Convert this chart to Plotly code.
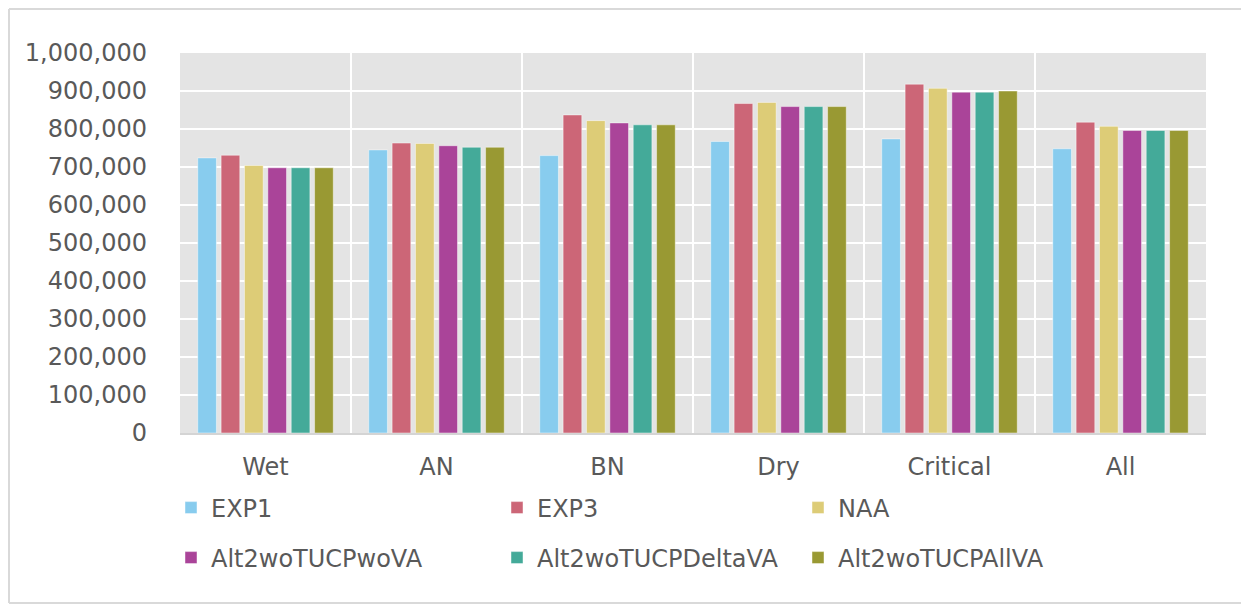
import plotly.graph_objects as go

categories = ["Wet", "AN", "BN", "Dry", "Critical", "All"]
series_names = ["EXP1", "EXP3", "NAA", "Alt2woTUCPwoVA", "Alt2woTUCPDeltaVA", "Alt2woTUCPAllVA"]
exp1 = [724000, 745000, 730000, 767000, 774000, 748000]
exp3 = [731000, 763000, 837000, 867000, 918000, 818000]
naa = [704000, 762000, 822000, 870000, 907000, 807000]
wo_va = [698000, 756000, 816000, 859000, 897000, 796000]
delta_va = [698000, 752000, 811000, 859000, 897000, 796000]
all_va = [698000, 752000, 811000, 859000, 900000, 796000]
series_values = [exp1, exp3, naa, wo_va, delta_va, all_va]
colors = ["#88CCEE", "#CC6677", "#DDCC77", "#AA4499", "#44AA99", "#999933"]

# page offset (default body margin of the html page)
OFF = 8
W, H = 1241, 597
# plot area in screen pixels: x 180..1206, y 53..433
L = 180 - OFF
T = 53 - OFF
R = W - (1206 - OFF)
B = H - (433 - OFF)
PW, PH = W - L - R, H - T - B

def px_x(px):
    return (px - OFF - L) / PW

def px_y(py):
    return (H - B - (py - OFF)) / PH

FONT = "DejaVu Sans"
FCOLOR = "#595959"

fig = go.Figure()
legend_ids = ["legend", "legend2", "legend3", "legend4", "legend5", "legend6"]
for name, vals, col, lid in zip(series_names, series_values, colors, legend_ids):
    fig.add_trace(go.Bar(
        x=categories, y=vals, name=name,
        marker=dict(color=col, line=dict(color="rgba(255,255,255,0.45)", width=1)),
        legend=lid,
    ))

# legend positions (screen pixels: legend left / row centre)
leg_pos = [(171, 508), (497, 508), (798, 508), (171, 558), (497, 558), (798, 558)]
layout_legends = {}
for lid, (lx, ly) in zip(legend_ids, leg_pos):
    layout_legends[lid] = dict(
        x=px_x(lx), y=px_y(ly), xanchor="left", yanchor="middle",
        orientation="h", bgcolor="rgba(0,0,0,0)", borderwidth=0,
        font=dict(family=FONT, size=24, color=FCOLOR),
    )

fig.update_layout(
    width=W, height=H,
    margin=dict(l=L, r=R, t=T, b=B),
    paper_bgcolor="white",
    plot_bgcolor="#e4e4e4",
    barmode="group",
    bargap=0.18,
    bargroupgap=0.2,
    font=dict(family=FONT, size=24, color=FCOLOR),
    showlegend=True,
    **layout_legends,
)
fig.update_xaxes(
    type="category",
    tickson="boundaries",
    showgrid=True, gridcolor="white", gridwidth=2,
    ticks="", showline=True, linecolor="#d4d4d4", linewidth=2,
    ticklabelstandoff=11,
    tickfont=dict(family=FONT, size=24, color=FCOLOR),
)
fig.update_yaxes(
    range=[0, 1000000], dtick=100000, tickformat=",",
    showgrid=True, gridcolor="white", gridwidth=2,
    zeroline=False, showline=False, ticks="",
    ticklabelstandoff=32,
    tickfont=dict(family=FONT, size=24, color=FCOLOR),
)
# outer chart border (left, top, bottom edges; right edge lies off the picture)
border = dict(color="#d9d9d9", width=2)
bx0, bx1, by0, by1 = px_x(9), px_x(1260), px_y(603), px_y(9)
for (x0, y0, x1, y1) in [(bx0, by0, bx0, by1), (bx0, by1, bx1, by1), (bx0, by0, bx1, by0)]:
    fig.add_shape(type="line", xref="paper", yref="paper",
                  x0=x0, y0=y0, x1=x1, y1=y1, line=border, layer="below")

fig.write_html("out.html")
